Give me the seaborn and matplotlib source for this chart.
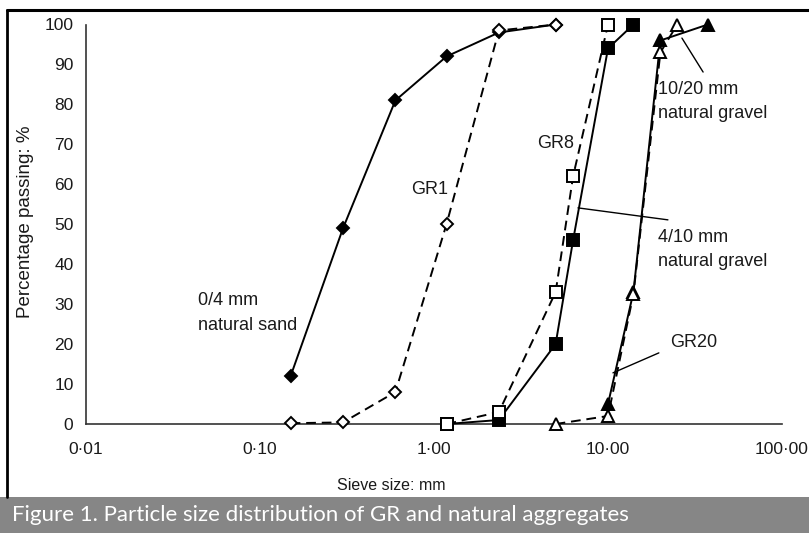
import numpy as np
import pandas as pd
import matplotlib
matplotlib.use("Agg")
import matplotlib.pyplot as plt
import seaborn as sns
from matplotlib.patches import Rectangle
from matplotlib.lines import Line2D

# ---- data (sieve size in mm, percentage passing) ----
sand_size = [0.15, 0.3, 0.6, 1.18, 2.36, 5.0]
sand_pass = [12, 49, 81, 92, 98, 100]
gr1_size = [0.15, 0.3, 0.6, 1.18, 2.36, 5.0]
gr1_pass = [0.2, 0.4, 8, 50, 98.5, 100]
gravel410_size = [1.18, 2.36, 5.0, 6.3, 10, 14]
gravel410_pass = [0, 1, 20, 46, 94, 100]
gr8_size = [1.18, 2.36, 5.0, 6.3, 10]
gr8_pass = [0, 3, 33, 62, 100]
gravel1020_size = [10, 14, 20, 37.5]
gravel1020_pass = [5, 33, 96, 100]
gr20_size = [5.0, 10, 14, 20, 25]
gr20_pass = [0, 2, 32.5, 93, 100]

xtick_vals = [0.01, 0.1, 1, 10, 100]
xtick_labels = ["0·01", "0·10", "1·00", "10·00", "100·00"]
ytick_vals = list(range(0, 101, 10))

sns.set_style("white")
plt.rcParams['font.family'] = ['Liberation Sans', 'DejaVu Sans']

W, H = 809, 533
fig = plt.figure(figsize=(W / 100, H / 100), dpi=100)
ax = fig.add_axes([86 / W, 1 - 424 / H, (782 - 86) / W, (424 - 24.5) / H])

series = [
    (sand_size, sand_pass, 'D', 'black', '-', 6.5),
    (gr1_size, gr1_pass, 'D', 'white', '--', 6.5),
    (gravel410_size, gravel410_pass, 's', 'black', '-', 8),
    (gr8_size, gr8_pass, 's', 'white', '--', 8),
    (gravel1020_size, gravel1020_pass, '^', 'black', '-', 8.5),
    (gr20_size, gr20_pass, '^', 'white', '--', 8.5),
]
for i, (xs, ys, mk, fc, ls, ms) in enumerate(series):
    df = pd.DataFrame({'size': xs, 'passing': ys})
    sns.lineplot(data=df, x='size', y='passing', ax=ax, color='black',
                 linestyle=ls, linewidth=1.4, marker=mk, markersize=ms,
                 markerfacecolor=fc, markeredgecolor='black', markeredgewidth=1.4,
                 clip_on=False, zorder=3 + i, legend=False)
for line in ax.get_lines():
    if line.get_linestyle() == '--':
        line.set_dashes((5, 3))

ax.set_xscale('log')
ax.set_xlim(0.01, 100)
ax.set_ylim(0, 100)
ax.set_xticks(xtick_vals)
ax.set_xticklabels(xtick_labels)
ax.minorticks_off()
ax.set_yticks(ytick_vals)

for s in ['top', 'right']:
    ax.spines[s].set_visible(False)
for s in ['left', 'bottom']:
    ax.spines[s].set_color('#333333')
    ax.spines[s].set_linewidth(1.2)
ax.tick_params(axis='both', which='major', direction='out', length=4,
               width=1.2, color='#333333', labelsize=12.5, labelcolor='#1a1a1a')
ax.tick_params(axis='x', pad=9)
ax.tick_params(axis='y', pad=5)

ax.set_xlabel('Sieve size: mm', fontsize=11.5, color='#1a1a1a', va='center')
ax.set_ylabel('Percentage passing: %', fontsize=13.5, color='#1a1a1a', va='center')
ax.xaxis.set_label_coords((391 - 86) / 696, -(485 - 424) / 399.5)
ax.yaxis.set_label_coords(-(86 - 26) / 696, (424 - 222) / 399.5)

tf = dict(fontsize=13, color='#1a1a1a', linespacing=1.55)
ax.text(0.044, 27.8, '0/4 mm\nnatural sand', ha='left', va='center', **tf)
ax.text(1.20, 58.6, 'GR1', ha='right', va='center', **tf)
ax.text(3.91, 70.3, 'GR8', ha='left', va='center', **tf)
ax.text(19.4, 80.8, '10/20 mm\nnatural gravel', ha='left', va='center', **tf)
ax.text(19.4, 43.6, '4/10 mm\nnatural gravel', ha='left', va='center', **tf)
ax.text(22.7, 20.3, 'GR20', ha='left', va='center', **tf)

lk = dict(color='black', linewidth=1.0, zorder=10)
ax.plot([26.6, 35.2], [96.6, 88.1], **lk)
ax.plot([6.72, 22.1], [54.1, 51.1], **lk)
ax.plot([10.68, 19.6], [12.8, 17.8], **lk)

# frame and caption bar
fig.add_artist(Line2D([7 / W, 7 / W], [1 - 497 / H, 1 - 10 / H], color='black', linewidth=2.0))
fig.add_artist(Line2D([7 / W, 1.0], [1 - 10 / H, 1 - 10 / H], color='black', linewidth=2.2))
fig.add_artist(Rectangle((0, 0), 1, 36 / H, transform=fig.transFigure,
                         facecolor='#868686', edgecolor='none'))
fig.text(12 / W, 1 - 515 / H, 'Figure 1. Particle size distribution of GR and natural aggregates',
         ha='left', va='center', color='white', fontsize=16, family=['Lato', 'DejaVu Sans'])

fig.savefig('out.png', dpi=100)
